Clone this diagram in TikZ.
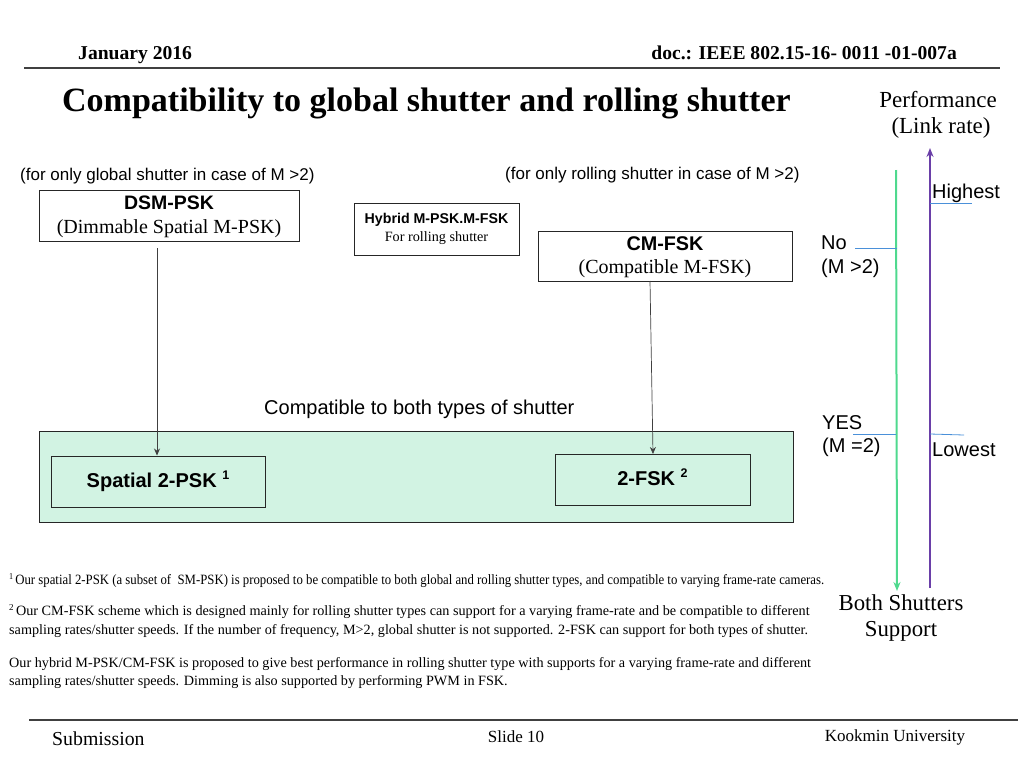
\documentclass[tikz,border=0pt]{standalone}
\usepackage{fontspec}
\setmainfont{Liberation Serif}
\setsansfont{Liberation Sans}
\usetikzlibrary{arrows.meta}
\definecolor{boxgreen}{HTML}{D2F3E3}
\definecolor{lgreen}{HTML}{4FD98E}
\definecolor{lpurple}{HTML}{6A3FA8}
\definecolor{lblue}{HTML}{4A90D9}
\tikzset{
  box/.style={draw=black!85, line width=1pt, inner sep=0pt},
  conn/.style={draw=black!75, line width=0.7pt, -{Stealth[length=7pt,width=6pt]}},
  stxt/.style={font=\sffamily, inner sep=0pt, anchor=west},
  rtxt/.style={inner sep=0pt},
  tick/.style={draw=lblue, line width=1pt},
  axlab/.style={stxt, font=\sffamily\fontsize{20}{22}\selectfont},
}
\begin{document}
\begin{tikzpicture}[x=1pt,y=-1pt]
\useasboundingbox (0,0) rectangle (1024,768);
% header
\node[rtxt, anchor=west, font=\bfseries\fontsize{19.6}{22}\selectfont] (date) at (78,55) {January 2016};
\node[rtxt, anchor=east, font=\bfseries\fontsize{19.6}{22}\selectfont] (doc) at (957,53) {doc.: IEEE 802.15-16- 0011 -01-007a};
\draw[line width=1.5pt, black!75] (24,68) -- (1000,68);
\node[rtxt, anchor=west, font=\bfseries\fontsize{34}{38}\selectfont] (title) at (62,103) {Compatibility to global shutter and rolling shutter};
\node[rtxt, font=\fontsize{23}{25}\selectfont] (perf) at (938,100) {Performance};
\node[rtxt, font=\fontsize{23}{25}\selectfont] (link) at (941,128) {(Link rate)};
% top labels
\node[stxt, font=\sffamily\fontsize{17}{19}\selectfont] (gl) at (20,176) {(for only global shutter in case of M >2)};
\node[stxt, font=\sffamily\fontsize{17}{19}\selectfont] (rl) at (505,175) {(for only rolling shutter in case of M >2)};
% boxes
\node[box, minimum width=260pt, minimum height=51pt] (dsm) at (169,215.5) {};
\node[rtxt, font=\sffamily\bfseries\fontsize{19.5}{21}\selectfont] at (169,203) {DSM-PSK};
\node[rtxt, font=\fontsize{20}{22}\selectfont] at (169,229) {(Dimmable Spatial M-PSK)};
\node[box, minimum width=165pt, minimum height=52pt] (hyb) at (436.5,229) {};
\node[rtxt, font=\sffamily\bfseries\fontsize{14.2}{16}\selectfont] at (436.5,220) {Hybrid M-PSK.M-FSK};
\node[rtxt, font=\fontsize{14.2}{16}\selectfont] at (436.5,238) {For rolling shutter};
\node[box, minimum width=254pt, minimum height=50pt] (cm) at (665,256) {};
\node[rtxt, font=\sffamily\bfseries\fontsize{19.8}{21}\selectfont] at (665,244) {CM-FSK};
\node[rtxt, font=\fontsize{20}{22}\selectfont] at (665,269) {(Compatible M-FSK)};
% compatible region
\node[stxt, font=\sffamily\fontsize{20}{22}\selectfont] (both) at (264,409) {Compatible to both types of shutter};
\node[box, fill=boxgreen, minimum width=754pt, minimum height=91pt] (region) at (416,476.5) {};
\node[box, minimum width=214pt, minimum height=51pt, font=\sffamily\bfseries\fontsize{20}{22}\selectfont] (sp) at (158,481.5) {Spatial 2-PSK \raisebox{0.4em}{\fontsize{12.5}{13}\selectfont 1}};
\node[box, minimum width=195pt, minimum height=51pt, font=\sffamily\bfseries\fontsize{20}{22}\selectfont] (fsk) at (652.5,479.5) {\raisebox{0.2em}{2-FSK \raisebox{0.4em}{\fontsize{12.5}{13}\selectfont 2}}};
% connectors
\coordinate (dsmout) at (157,248);
\draw[conn] (dsmout) -- (sp.north -| dsmout);
\coordinate (cmout) at (650,281);
\coordinate (fskin) at (653,454);
\draw[conn] (cmout) -- (fskin);
% performance axis
\coordinate (gtop) at (896,170);
\coordinate (gbot) at (897,591);
\draw[draw=lgreen, line width=2pt, -{Stealth[length=9pt,width=7pt]}] (gtop) -- (gbot);
\coordinate (ptop) at (930,148);
\coordinate (pbot) at (930,588);
\draw[draw=lpurple, line width=2pt, -{Stealth[length=9pt,width=7pt]}] (pbot) -- (ptop);
\node[axlab] (hi) at (932,193) {Highest};
\draw[tick, line width=0.8pt] (930,203) -- (972,203);
\node[axlab] (no) at (821,243) {No};
\node[axlab] (m2) at (821,268) {(M >2)};
\draw[tick] (855,248) -- (897,248);
\node[axlab] (yes) at (822,423) {YES};
\node[axlab] (m1) at (822,447) {(M =2)};
\draw[tick] (853,434) -- (896,434);
\node[axlab] (lo) at (932,450) {Lowest};
\draw[tick, line width=0.8pt] (930,434) -- (964,435);
\node[rtxt, font=\fontsize{22.8}{25}\selectfont] (bs1) at (901,603) {Both Shutters};
\node[rtxt, font=\fontsize{22.8}{25}\selectfont] (bs2) at (901,631) {Support};
% footnotes
\begin{scope}[every node/.style={rtxt, anchor=west, font=\fontsize{14.2}{16}\selectfont}]
\node (f1) at (9,581) {\scalebox{0.9}[1]{\raisebox{0.35em}{\fontsize{9}{10}\selectfont 1}\,Our spatial 2-PSK (a subset of\ \ SM-PSK) is proposed to be compatible to both global and rolling shutter types, and compatible to varying frame-rate cameras.}};
\node (f2) at (9,612) {\raisebox{0.35em}{\fontsize{9}{10}\selectfont 2}\,Our CM-FSK scheme which is designed mainly for rolling shutter types can support for a varying frame-rate and be compatible to different};
\node (f3) at (9,631) {sampling rates/shutter speeds. If the number of frequency, M>2, global shutter is not supported. 2-FSK can support for both types of shutter.};
\node (f4) at (9,664) {Our hybrid M-PSK/CM-FSK is proposed to give best performance in rolling shutter type with supports for a varying frame-rate and different};
\node (f5) at (9,682) {sampling rates/shutter speeds. Dimming is also supported by performing PWM in FSK.};
\end{scope}
% footer
\draw[line width=1.5pt, black!75] (29,720) -- (1018,720);
\node[rtxt, anchor=west, font=\fontsize{19.8}{22}\selectfont] (sub) at (52,739) {Submission};
\node[rtxt, font=\fontsize{17}{19}\selectfont] (slide) at (516,737) {Slide 10};
\node[rtxt, font=\fontsize{17}{19}\selectfont] (km) at (895,737) {Kookmin University};
\end{tikzpicture}
\end{document}
